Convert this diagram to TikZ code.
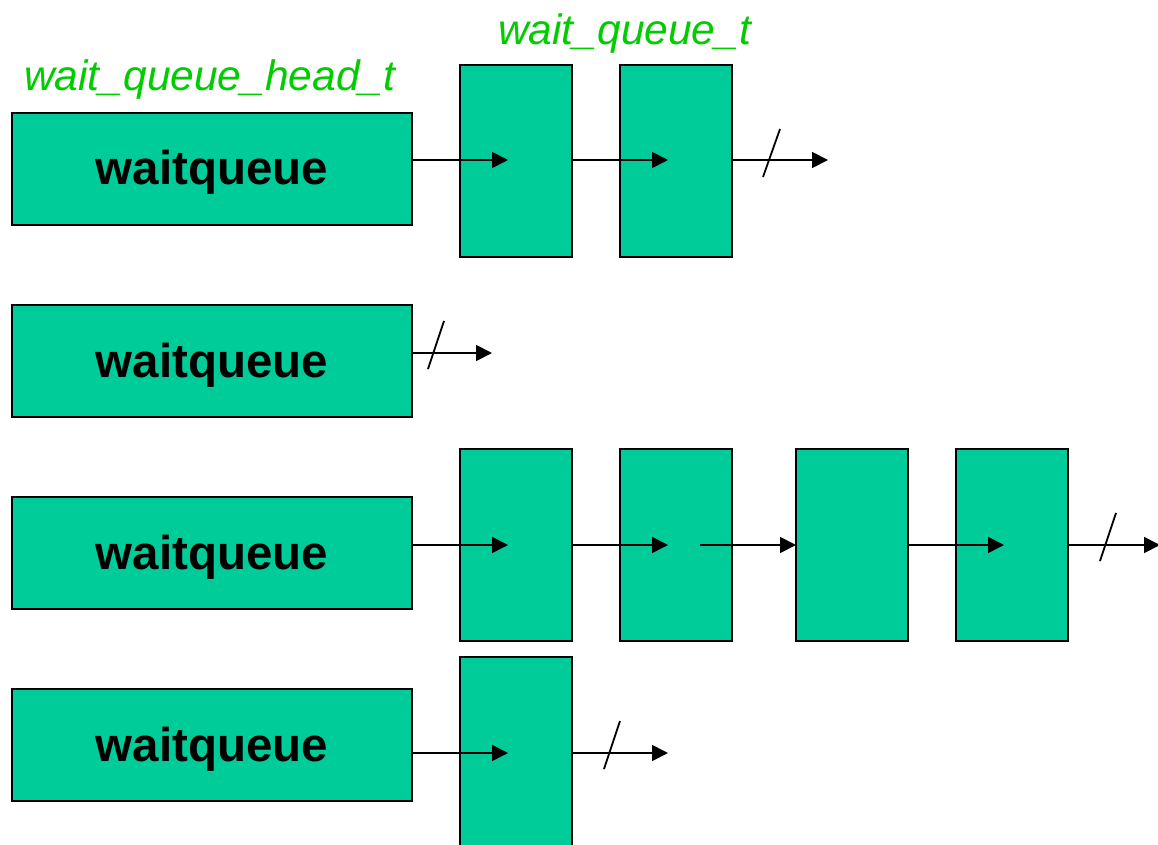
\documentclass[tikz,border=0pt]{standalone}
\usepackage{fontspec}
\setmainfont{Liberation Sans}
\usetikzlibrary{arrows.meta}
\definecolor{boxgreen}{HTML}{00CC99}
\definecolor{labgreen}{HTML}{00CC00}
\tikzset{
  headbox/.style={draw=black, line width=1.8pt, fill=boxgreen, minimum width=400pt, minimum height=112pt, inner sep=0pt, text height=40pt, text depth=8pt, font=\fontsize{47.5}{55}\selectfont\bfseries},
  elembox/.style={draw=black, line width=1.8pt, fill=boxgreen, minimum width=112pt, minimum height=192pt, inner sep=0pt},
  arr/.style={line width=1.8pt, -{Triangle[length=16pt,width=16pt]}},
  slash/.style={line width=1.8pt},
  lab/.style={text=labgreen, font=\fontsize{42.5}{48}\selectfont\itshape, inner sep=0pt, anchor=base west}
}
\begin{document}
\begin{tikzpicture}[x=1pt,y=-1pt]
\useasboundingbox (0,0) rectangle (1158,845);
\clip (0,0) rectangle (1158,845);
% labels
\node[lab] (l1) at (24,91) {wait\_queue\_head\_t};
\node[lab] (l2) at (498,45) {wait\_queue\_t};
% heads
\node[headbox] (h1) at (212,169) {waitqueue};
\node[headbox] (h2) at (212,361) {waitqueue};
\node[headbox] (h3) at (212,553) {waitqueue};
\node[headbox] (h4) at (212,745) {waitqueue};
% elements row 1
\node[elembox] (e11) at (516,161) {};
\node[elembox] (e12) at (676,161) {};
% row 3
\node[elembox] (e31) at (516,545) {};
\node[elembox] (e32) at (676,545) {};
\node[elembox] (e33) at (852,545) {};
\node[elembox] (e34) at (1012,545) {};
% row 4
\node[elembox] (e41) at (516,753) {};
% arrow targets
\coordinate (t11) at (508,160);
\coordinate (t12) at (668,160);
\coordinate (t13) at (828,160);
\coordinate (t21) at (492,353);
\coordinate (t31) at (508,545);
\coordinate (t32) at (668,545);
\coordinate (s33) at (700,545);
\coordinate (t33) at (796,545);
\coordinate (t34) at (1004,545);
\coordinate (t35) at (1160,545);
\coordinate (t41) at (508,753);
\coordinate (t42) at (668,753);
% row 1 arrows
\draw[arr] (h1.east |- t11) -- (t11);
\draw[arr] (e11.east |- t12) -- (t12);
\draw[arr] (e12.east |- t13) -- (t13);
\draw[slash] (763,177) -- (780,129);
% row 2
\draw[arr] (h2.east |- t21) -- (t21);
\draw[slash] (428,369) -- (444,321);
% row 3
\draw[arr] (h3.east |- t31) -- (t31);
\draw[arr] (e31.east |- t32) -- (t32);
\draw[arr] (s33) -- (t33);
\draw[arr] (e33.east |- t34) -- (t34);
\draw[arr] (e34.east |- t35) -- (t35);
\draw[slash] (1100,561) -- (1116,513);
% row 4
\draw[arr] (h4.east |- t41) -- (t41);
\draw[arr] (e41.east |- t42) -- (t42);
\draw[slash] (604,769) -- (620,721);
\end{tikzpicture}
\end{document}
